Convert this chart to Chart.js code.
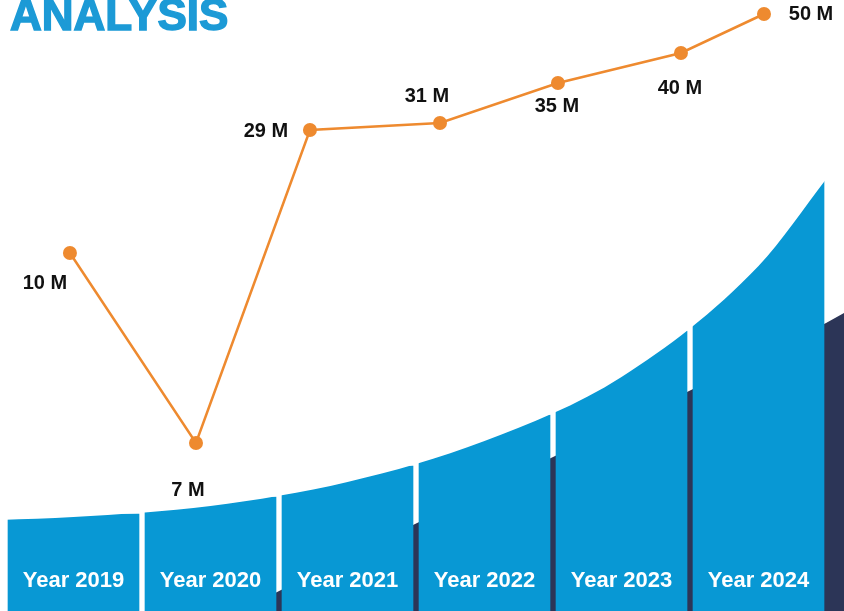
<!DOCTYPE html>
<html>
<head>
<meta charset="utf-8">
<script src="https://cdn.jsdelivr.net/npm/chart.js@4.4.1/dist/chart.umd.min.js"></script>
<style>
  html, body { margin: 0; padding: 0; background: #fff; }
  #wrap { position: relative; width: 844px; height: 611px; overflow: hidden; }
</style>
</head>
<body>
<div id="wrap"><canvas id="myChart"></canvas></div>
<script>
// bars (one per year), centred on x = 0..5
const years = ["Year 2019", "Year 2020", "Year 2021", "Year 2022", "Year 2023", "Year 2024"];
const barTops = [97, 114, 145, 196, 280, 431];

// orange line (x in bar units, y in height units)
const lineX = [-0.026, 0.894, 1.726, 2.675, 3.536, 4.434, 5.04];
const lineY = [358, 168, 481, 488, 528, 558, 597];
const lineLabels = ["10 M", "7 M", "29 M", "31 M", "35 M", "40 M", "50 M"];

// top edge of the blue bars (the white curve)
const curveX = [-0.536, 0, 1, 2, 3, 4, 5, 5.5];
const curveY = [91, 94, 105, 129, 170, 234, 345, 433];

// dark shadow behind the bars
const shadowX = [-0.536, 1.215, 1.515, 2.493, 3.47, 4.493, 5.493, 5.624];
const shadowY = [0, 0, 21, 87, 152, 220, 288, 298];

const toPoints = (xs, ys) => xs.map((x, i) => ({ x: x, y: ys[i] }));

// where each value label sits relative to its point
const labelOffsets = [[-25, 30], [-8, 47], [-44, 1], [-13, -27], [-1, 23], [-1, 35], [47, 0]];

const etiquetas = {
  id: "etiquetas",
  afterDatasetsDraw(chart) {
    const ctx = chart.ctx;
    const xScale = chart.scales.x;
    const yScale = chart.scales.y;
    ctx.save();

    ctx.fillStyle = "#1c9ad6";
    ctx.strokeStyle = "#1c9ad6";
    ctx.lineWidth = 1.5;
    ctx.font = "bold 44px 'Liberation Sans', Arial, sans-serif";
    ctx.textAlign = "left";
    ctx.textBaseline = "alphabetic";
    ctx.fillText("ANALYSIS", 10, 30);
    ctx.strokeText("ANALYSIS", 10, 30);

    ctx.fillStyle = "#ffffff";
    ctx.font = "bold 22px 'Liberation Sans', Arial, sans-serif";
    ctx.textAlign = "center";
    ctx.textBaseline = "middle";
    years.forEach((y, i) => {
      ctx.fillText(y, xScale.getPixelForValue(i), yScale.getPixelForValue(30));
    });

    const meta = chart.getDatasetMeta(0);
    ctx.fillStyle = "#111111";
    ctx.font = "bold 20px 'Liberation Sans', Arial, sans-serif";
    meta.data.forEach((pt, i) => {
      ctx.fillText(lineLabels[i], pt.x + labelOffsets[i][0], pt.y + labelOffsets[i][1]);
    });
    ctx.restore();
  }
};

const grafico = new Chart(document.getElementById("myChart"), {
  type: "bar",
  data: {
    datasets: [
      {
        type: "line",
        data: toPoints(lineX, lineY),
        borderColor: "#ee8a2f",
        borderWidth: 2.5,
        pointRadius: 7,
        pointBackgroundColor: "#ee8a2f",
        pointBorderWidth: 0,
        fill: false,
        order: 1
      },
      {
        type: "line",
        data: toPoints(curveX, curveY),
        borderWidth: 0,
        pointRadius: 0,
        backgroundColor: "#ffffff",
        fill: "end",
        cubicInterpolationMode: "monotone",
        order: 2
      },
      {
        type: "bar",
        data: barTops.map((v, i) => ({ x: i, y: v })),
        backgroundColor: "#0898d4",
        barThickness: 131,
        order: 3
      },
      {
        type: "line",
        data: toPoints(shadowX, shadowY),
        borderWidth: 0,
        pointRadius: 0,
        backgroundColor: "#2c3557",
        fill: "start",
        order: 4
      }
    ]
  },
  options: {
    responsive: true,
    maintainAspectRatio: false,
    animation: false,
    layout: { padding: 0, autoPadding: false },
    plugins: { legend: { display: false }, tooltip: { enabled: false } },
    scales: {
      x: { type: "linear", min: -0.5365, max: 5.624, offset: false, display: false },
      y: { type: "linear", min: 0, max: 611, display: false }
    }
  },
  plugins: [etiquetas]
});
</script>
</body>
</html>
